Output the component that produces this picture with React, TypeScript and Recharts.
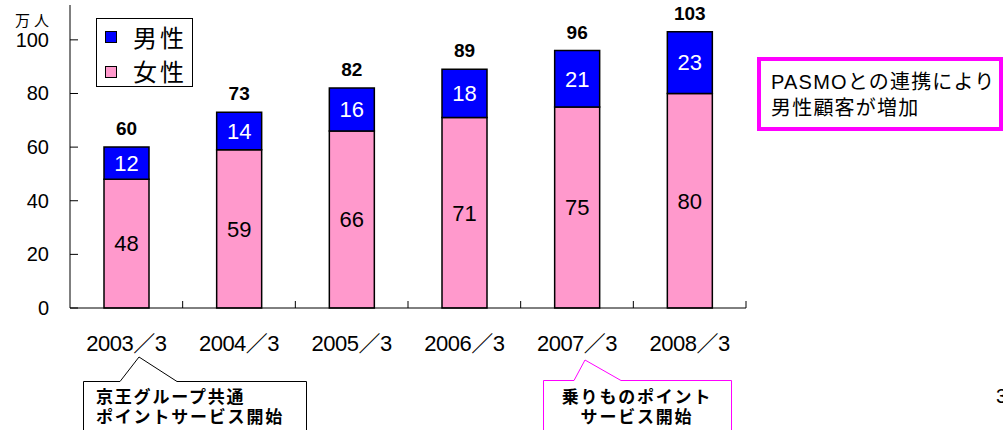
import React from 'react'
import { BarChart, Bar, XAxis, YAxis, Legend, LabelList } from 'recharts'

const periods = ['2003／3', '2004／3', '2005／3', '2006／3', '2007／3', '2008／3']
const femaleValues = [48, 59, 66, 71, 75, 80]
const maleValues = [12, 14, 16, 18, 21, 23]
const totalValues = [60, 73, 82, 89, 96, 103]
const yTicks = [0, 20, 40, 60, 80, 100]

const data = periods.map((p, i) => ({
  period: p,
  female: femaleValues[i],
  male: maleValues[i],
  total: totalValues[i],
}))

const FONT = '"Liberation Sans", Arial, "Noto Sans CJK JP", sans-serif'
const JP = '"Noto Sans CJK JP", sans-serif'
const W = 1003
const H = 430
const MARGIN = { top: 5, right: 257, bottom: 92, left: 0 }
const Y_WIDTH = 70
// width of one category on the x axis
const BAND = (W - MARGIN.right - Y_WIDTH) / periods.length

const YTick = (props: any) => {
  const { x, y, payload } = props
  return (
    <g>
      <line x1={x} y1={y} x2={x + 8} y2={y} stroke="#000" />
      <text x={x - 21} y={y + 7} textAnchor="end" fontSize={20} fontFamily={FONT} fill="#000">
        {payload.value}
      </text>
    </g>
  )
}

const XTick = (props: any) => {
  const { x, y, payload } = props
  return (
    <g>
      <line x1={x + BAND / 2} y1={y} x2={x + BAND / 2} y2={y - 7} stroke="#000" />
      <text x={x} y={y + 43} textAnchor="middle" fontSize={22} letterSpacing={-0.5} fontFamily={FONT} fill="#000">
        {payload.value}
      </text>
    </g>
  )
}

const LegendBox = (props: any) => {
  const items = [...(props.payload || [])].reverse()
  return (
    <svg width={97} height={70}>
      <rect x={0.5} y={0.5} width={96} height={68} fill="#fff" stroke="#000" />
      {items.map((item: any, i: number) => (
        <g key={item.value}>
          <rect x={9.5} y={13.5 + i * 35} width={11} height={11} fill={item.color} stroke="#000" />
          <text x={37} y={29 + i * 34} fontSize={24} letterSpacing={3} fontFamily={JP} fill="#000">
            {item.value}
          </text>
        </g>
      ))}
    </svg>
  )
}

export default function App() {
  return (
    <div style={{ position: 'absolute', left: 0, top: 0, width: W, height: H, background: '#fff' }}>
      <BarChart width={W} height={H} data={data} margin={MARGIN}>
        <XAxis
          dataKey="period"
          axisLine={{ stroke: '#000' }}
          tickLine={false}
          tickSize={0}
          tickMargin={0}
          interval={0}
          height={30}
          tick={<XTick />}
        />
        <YAxis
          width={Y_WIDTH}
          domain={[0, 113]}
          ticks={yTicks}
          axisLine={{ stroke: '#000' }}
          tickLine={false}
          tickSize={0}
          tickMargin={0}
          tick={<YTick />}
        />
        <Legend
          layout="horizontal"
          verticalAlign="middle"
          align="center"
          content={<LegendBox />}
          wrapperStyle={{ left: 96, top: 18, width: 97, height: 70 }}
        />
        <Bar dataKey="female" name="女性" stackId="a" fill="#FF99CC" stroke="#000" strokeWidth={1.5} barSize={45} isAnimationActive={false}>
          <LabelList dataKey="female" position="center" fill="#000" fontSize={22} fontFamily={FONT} />
        </Bar>
        <Bar dataKey="male" name="男性" stackId="a" fill="#0000FF" stroke="#000" strokeWidth={1.5} barSize={45} isAnimationActive={false}>
          <LabelList dataKey="male" position="center" fill="#fff" fontSize={22} fontFamily={FONT} />
          <LabelList dataKey="total" position="top" offset={12} fill="#000" fontSize={19} fontWeight="bold" fontFamily={FONT} />
        </Bar>
      </BarChart>
      <svg width={W} height={H} style={{ position: 'absolute', left: 0, top: 0, pointerEvents: 'none' }}>
        <text x={15} y={26} fontSize={15} letterSpacing={4} fontFamily={JP} fill="#000">万人</text>

        <rect x={759} y={59} width={242} height={70} fill="#fff" stroke="#FF00FF" strokeWidth={4} />
        <text x={771} y={89} fontSize={20} letterSpacing={1.2} fontFamily={FONT} fill="#000">PASMOとの連携により</text>
        <text x={771} y={115} fontSize={20} letterSpacing={1.2} fontFamily={FONT} fill="#000">男性顧客が増加</text>

        <path d="M83.5,381.5 L120,381.5 L139,357 L177,381.5 L306.5,381.5 L306.5,433 L83.5,433 Z" fill="#fff" stroke="#000" />
        <text x={96} y={403} fontSize={17} letterSpacing={1.8} fontWeight="bold" fontFamily={JP} fill="#000">京王グループ共通</text>
        <text x={96} y={423} fontSize={17} letterSpacing={1.8} fontWeight="bold" fontFamily={JP} fill="#000">ポイントサービス開始</text>

        <path d="M543.5,380.5 L574,380.5 L585,360 L621,380.5 L731.5,380.5 L731.5,433 L543.5,433 Z" fill="#fff" stroke="#FF00FF" />
        <text x={637} y={403} fontSize={17} letterSpacing={1.8} fontWeight="bold" textAnchor="middle" fontFamily={JP} fill="#000">乗りものポイント</text>
        <text x={637} y={423} fontSize={17} letterSpacing={1.8} fontWeight="bold" textAnchor="middle" fontFamily={JP} fill="#000">サービス開始</text>

        <text x={996} y={403} fontSize={20} fontFamily={FONT} fill="#000">3</text>
      </svg>
    </div>
  )
}
